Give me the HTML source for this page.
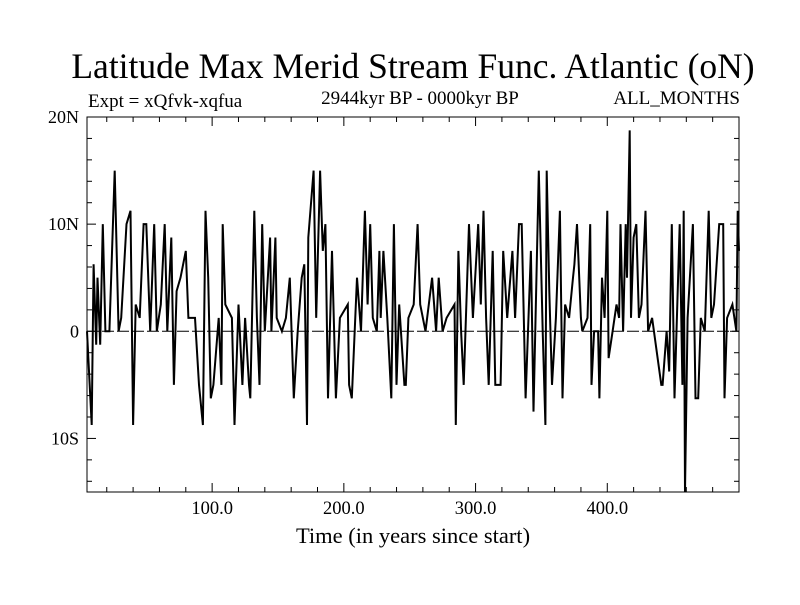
<!DOCTYPE html>
<html><head><meta charset="utf-8"><style>
body{margin:0;background:#fff}
svg text{font-family:"Liberation Serif",serif;fill:#000}
</style></head><body>
<svg id="c" width="800" height="600" xmlns="http://www.w3.org/2000/svg">
<rect width="800" height="600" fill="#fff"/>
<text x="413" y="78" font-size="35.5" text-anchor="middle">Latitude Max Merid Stream Func. Atlantic (oN)</text>
<text x="88" y="107" font-size="19">Expt = xQfvk-xqfua</text>
<text x="420" y="104" font-size="19" text-anchor="middle">2944kyr BP - 0000kyr BP</text>
<text x="740" y="104" font-size="19" text-anchor="end">ALL_MONTHS</text>
<text x="413" y="543" font-size="22.5" text-anchor="middle">Time (in years since start)</text>
<g id="axes"></g>
<g id="marks"></g>
<rect x="87" y="117" width="652" height="375" fill="none" stroke="#000" stroke-width="1"/>
</svg>
<script>
const years=[5,8.6,10,12,13,15,17,19,22,26,28,29,31,35,38,40,42,45,48,50,53,56,58,61,64,66,69,71,73,76,80,82,87,90,91,93,95,97,99,101,105,107,108,110,115,117,120,123,125,128,129,132,134,136,138,140,144,145,148,149,153,156,159,162,165,168,170,172,173,177,179,182,184,186,188,191,194,197,203,204,206,210,213,216,218,220,222,225,227,228,230,233,236,238,240,242,246,247,249,253,256,258,262,267,270,272,275,278,284,285,287,289,291,295,298,302,304,306,308,310,313,315,319,321,324,328,330,333,335,338,342,344,348,351,353,354,356,358,361,364,366,368,371,374,375,377,380,381,385,387,388,390,393,394,396,398,400,401,404,407,409,410,412,414,415,417,418,420,422,424,426,429,431,434,441,442,445,447,449,451,455,457,458,459,461,465,467,469,471,474,477,479,481,485,488,489,491,495,498,499,500];
const lats=[0,-8.75,6.25,-1.25,5,-1.25,10,0,0,15,5,0,1.25,10,11.25,-8.75,2.5,1.25,10,10,0,10,0,2.5,10,0,8.75,-5,3.75,5,7.5,1.25,1.25,-5,-6.25,-8.75,11.25,5,-6.25,-5,1.25,-5,10,2.5,1.25,-8.75,2.5,-5,1.25,-5,-6.25,11.25,1.25,-5,10,0,8.75,0,8.75,1.25,0,1.25,5,-6.25,0,5,6.25,-8.75,8.75,15,1.25,15,7.5,10,-6.25,7.5,-6.25,1.25,2.5,-5,-6.25,5,0,11.25,2.5,10,1.25,0,7.5,1.25,7.5,1.25,-6.25,10,-5,2.5,-5,-5,1.25,2.5,10,2.5,0,5,0,5,0,1.25,2.5,-8.75,7.5,0,-5,10,1.25,10,2.5,11.25,1.25,-5,7.5,-5,-5,7.5,1.25,7.5,1.25,10,10,-6.25,7.5,-7.5,15,0,-8.75,15,3.75,-5,1.25,11.25,-6.25,2.5,1.25,5,6.25,10,1.25,0,1.25,10,-5,0,0,-6.25,5,1.25,11.25,-2.5,0,2.5,1.25,10,0,10,5,18.75,1.25,8.75,10,1.25,2.5,11.25,0,1.25,-5,-5,0,-3.75,10,-6.25,10,-5,11.25,-15,1.25,10,-6.25,-6.25,1.25,0,11.25,1.25,2.5,10,10,-6.25,1.25,2.5,0,11.25,7.5];
const xTicks=[100,200,300,400];
const yTicks=[20,10,0,-10];
const yTickLabels=["20N","10N","0","10S"];
const X0=87,X1=739,Y0=117,Y1=492,xmin=5,xmax=500,ymin=-15,ymax=20;
const sx=v=>X0+(v-xmin)/(xmax-xmin)*(X1-X0);
const sy=v=>Y1-(v-ymin)/(ymax-ymin)*(Y1-Y0);
const NS="http://www.w3.org/2000/svg";
const axes=document.getElementById('axes'),marks=document.getElementById('marks');
function mk(t,a,p){const e=document.createElementNS(NS,t);for(const k in a)e.setAttribute(k,a[k]);p.appendChild(e);return e;}
for(let v=20;v<=500;v+=20){const x=sx(v);const L=(v%100===0)?9:5;
const t1=mk('line',{x1:x,x2:x,y1:Y1,y2:Y1-L,stroke:'#000'},axes);


mk('line',{x1:x,x2:x,y1:Y0,y2:Y0+L,stroke:'#000'},axes);}
for(let v=-14;v<=20;v+=2){const y=sy(v);const L=(v%10===0)?9:5;
const t2=mk('line',{x1:X0,x2:X0+L,y1:y,y2:y,stroke:'#000'},axes);


mk('line',{x1:X1,x2:X1-L,y1:y,y2:y,stroke:'#000'},axes);}
xTicks.forEach(v=>{const t=mk('text',{x:sx(v),y:514,'font-size':18.5,'text-anchor':'middle'},axes);t.textContent=v.toFixed(1);

});
yTicks.forEach((v,i)=>{const t=mk('text',{x:79,y:sy(v)+6,'font-size':18,'text-anchor':'end'},axes);t.textContent=yTickLabels[i];

});
const z=mk('line',{x1:X0,x2:X1,y1:sy(0),y2:sy(0),stroke:'#000','stroke-width':1,'stroke-dasharray':'12,3'},axes);


let d='';years.forEach((y,i)=>{d+=(i?'L':'M')+sx(y).toFixed(1)+','+sy(lats[i]).toFixed(1);});
const p=mk('path',{d:d,fill:'none',stroke:'#000','stroke-width':2,'stroke-linejoin':'miter'},marks);


</script>
</body></html>
